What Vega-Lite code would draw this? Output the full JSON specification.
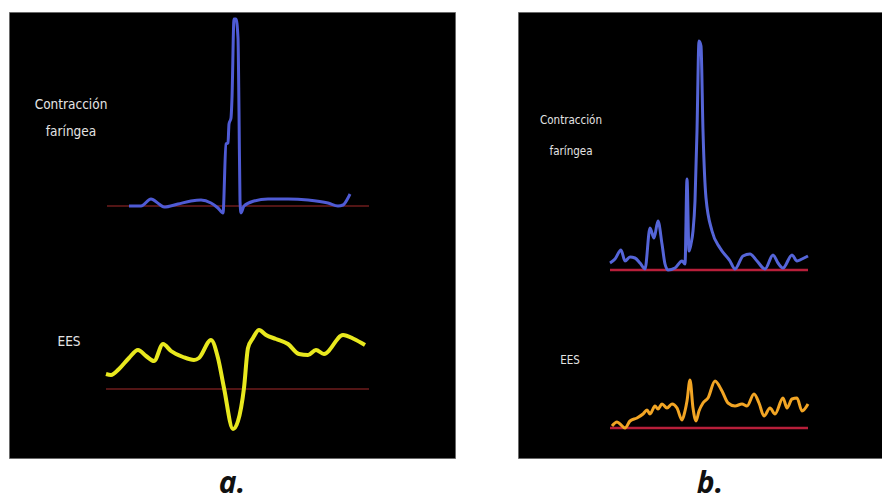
{
  "$schema": "https://vega.github.io/schema/vega-lite/v6.json",
  "background": "white",
  "padding": {"left": 8, "top": 11, "right": 0, "bottom": 3},
  "config": {
    "view": {"fill": "black", "stroke": "#6a6a6a", "strokeWidth": 1},
    "concat": {"spacing": 61}
  },
  "datasets": {
    "a_faringe": [
      {"t": 120, "amp": 0}, {"t": 132, "amp": 0}, {"t": 142, "amp": 7}, {"t": 150, "amp": 2},
      {"t": 155, "amp": -1}, {"t": 169, "amp": 2}, {"t": 182, "amp": 5}, {"t": 192, "amp": 6},
      {"t": 202, "amp": 3}, {"t": 209, "amp": -2}, {"t": 214, "amp": -7}, {"t": 217, "amp": 62},
      {"t": 219, "amp": 63}, {"t": 220, "amp": 82}, {"t": 222, "amp": 88}, {"t": 223, "amp": 108},
      {"t": 225, "amp": 187}, {"t": 227, "amp": 187}, {"t": 229, "amp": 168}, {"t": 230, "amp": 95},
      {"t": 231, "amp": 5}, {"t": 232, "amp": -7}, {"t": 235, "amp": 0}, {"t": 245, "amp": 5},
      {"t": 259, "amp": 7}, {"t": 279, "amp": 7}, {"t": 299, "amp": 6}, {"t": 319, "amp": 3},
      {"t": 329, "amp": 0}, {"t": 334, "amp": 1}, {"t": 339, "amp": 8}, {"t": 341, "amp": 12}
    ],
    "a_ees": [
      {"t": 97, "amp": 15}, {"t": 102, "amp": 14}, {"t": 110, "amp": 20}, {"t": 120, "amp": 31},
      {"t": 129, "amp": 39}, {"t": 137, "amp": 33}, {"t": 145, "amp": 28}, {"t": 154, "amp": 45},
      {"t": 162, "amp": 38}, {"t": 174, "amp": 32}, {"t": 185, "amp": 29}, {"t": 190, "amp": 31},
      {"t": 202, "amp": 49}, {"t": 209, "amp": 31}, {"t": 215, "amp": 1}, {"t": 224, "amp": -40},
      {"t": 229, "amp": -32}, {"t": 235, "amp": 1}, {"t": 239, "amp": 41}, {"t": 244, "amp": 51},
      {"t": 250, "amp": 59}, {"t": 257, "amp": 54}, {"t": 267, "amp": 50}, {"t": 279, "amp": 45},
      {"t": 290, "amp": 35}, {"t": 299, "amp": 34}, {"t": 307, "amp": 39}, {"t": 315, "amp": 35},
      {"t": 334, "amp": 54}, {"t": 345, "amp": 50}, {"t": 356, "amp": 44}
    ],
    "b_faringe": [
      {"t": 92, "amp": 7}, {"t": 97, "amp": 11}, {"t": 103, "amp": 20}, {"t": 107, "amp": 9},
      {"t": 112, "amp": 13}, {"t": 117, "amp": 12}, {"t": 122, "amp": 7}, {"t": 127, "amp": 1},
      {"t": 132, "amp": 42}, {"t": 136, "amp": 32}, {"t": 140, "amp": 49}, {"t": 144, "amp": 26},
      {"t": 147, "amp": 6}, {"t": 150, "amp": 0}, {"t": 157, "amp": 2}, {"t": 164, "amp": 9},
      {"t": 167, "amp": 6}, {"t": 169, "amp": 91}, {"t": 171, "amp": 19}, {"t": 173, "amp": 26},
      {"t": 175, "amp": 39}, {"t": 177, "amp": 69}, {"t": 179, "amp": 139}, {"t": 181, "amp": 229},
      {"t": 183, "amp": 224}, {"t": 185, "amp": 139}, {"t": 188, "amp": 72}, {"t": 194, "amp": 39},
      {"t": 202, "amp": 22}, {"t": 212, "amp": 9}, {"t": 217, "amp": 1}, {"t": 225, "amp": 14},
      {"t": 232, "amp": 16}, {"t": 239, "amp": 9}, {"t": 247, "amp": 1}, {"t": 255, "amp": 15},
      {"t": 260, "amp": 7}, {"t": 265, "amp": 2}, {"t": 274, "amp": 15}, {"t": 279, "amp": 9},
      {"t": 284, "amp": 11}, {"t": 290, "amp": 14}
    ],
    "b_ees": [
      {"t": 94, "amp": 2}, {"t": 99, "amp": 6}, {"t": 102, "amp": 4}, {"t": 107, "amp": 0},
      {"t": 112, "amp": 7}, {"t": 119, "amp": 10}, {"t": 125, "amp": 14}, {"t": 129, "amp": 18},
      {"t": 132, "amp": 14}, {"t": 137, "amp": 22}, {"t": 140, "amp": 19}, {"t": 144, "amp": 24},
      {"t": 149, "amp": 20}, {"t": 154, "amp": 24}, {"t": 159, "amp": 20}, {"t": 164, "amp": 8},
      {"t": 167, "amp": 17}, {"t": 169, "amp": 27}, {"t": 172, "amp": 48}, {"t": 175, "amp": 20},
      {"t": 178, "amp": 7}, {"t": 181, "amp": 17}, {"t": 185, "amp": 25}, {"t": 190, "amp": 30},
      {"t": 197, "amp": 47}, {"t": 204, "amp": 37}, {"t": 210, "amp": 25}, {"t": 217, "amp": 22},
      {"t": 224, "amp": 24}, {"t": 229, "amp": 22}, {"t": 236, "amp": 34}, {"t": 241, "amp": 25},
      {"t": 246, "amp": 12}, {"t": 252, "amp": 20}, {"t": 257, "amp": 14}, {"t": 265, "amp": 30},
      {"t": 269, "amp": 20}, {"t": 274, "amp": 29}, {"t": 279, "amp": 30}, {"t": 284, "amp": 17},
      {"t": 290, "amp": 24}
    ],
    "baselines": [
      {"panel": "a", "canal": "faringe", "t0": 98, "t1": 360, "amp": 0},
      {"panel": "a", "canal": "ees", "t0": 97, "t1": 360, "amp": 0},
      {"panel": "b", "canal": "faringe", "t0": 92, "t1": 290, "amp": 0},
      {"panel": "b", "canal": "ees", "t0": 92, "t1": 290, "amp": 0}
    ],
    "labels": [
      {"panel": "a", "canal": "faringe", "label": "Contracción", "t": 62, "amp": 101},
      {"panel": "a", "canal": "faringe", "label": "faríngea", "t": 62, "amp": 74},
      {"panel": "a", "canal": "ees", "label": "EES", "t": 60, "amp": 47},
      {"panel": "b", "canal": "faringe", "label": "Contracción", "t": 53, "amp": 149},
      {"panel": "b", "canal": "faringe", "label": "faríngea", "t": 53, "amp": 118},
      {"panel": "b", "canal": "ees", "label": "EES", "t": 52, "amp": 67}
    ]
  },
  "hconcat": [
    {
      "width": 446,
      "height": 446,
      "title": {"text": "a.", "orient": "bottom", "anchor": "middle", "baseline": "alphabetic", "offset": 35, "font": "Open Sans", "fontSize": 30, "fontStyle": "italic", "fontWeight": "bold", "color": "#111111"},
      "resolve": {"scale": {"y": "independent"}},
      "layer": [
        {
          "layer": [
            {
              "data": {"name": "baselines"},
              "transform": [{"filter": "datum.panel == 'a' && datum.canal == 'faringe'"}],
              "mark": {"type": "rule", "color": "#6e1c1c", "strokeWidth": 1.5},
              "encoding": {
                "x": {"field": "t0", "type": "quantitative", "scale": {"domain": [0, 446], "nice": false, "zero": false}, "axis": null},
                "x2": {"field": "t1"},
                "y": {"field": "amp", "type": "quantitative", "scale": {"domain": [-252, 194], "nice": false, "zero": false}, "axis": null}
              }
            },
            {
              "data": {"name": "a_faringe"},
              "mark": {"type": "line", "color": "#4f5bd5", "strokeWidth": 3, "interpolate": "monotone"},
              "encoding": {
                "x": {"field": "t", "type": "quantitative", "axis": null},
                "y": {"field": "amp", "type": "quantitative", "axis": null}
              }
            },
            {
              "data": {"name": "labels"},
              "transform": [{"filter": "datum.panel == 'a' && datum.canal == 'faringe'"}],
              "mark": {"type": "text", "font": "Liberation Sans Narrow, DejaVu Sans Condensed, Roboto", "fontSize": 13.5, "color": "#e4e4e4", "align": "center", "baseline": "middle"},
              "encoding": {
                "x": {"field": "t", "type": "quantitative", "axis": null},
                "y": {"field": "amp", "type": "quantitative", "axis": null},
                "text": {"field": "label"}
              }
            }
          ]
        },
        {
          "layer": [
            {
              "data": {"name": "baselines"},
              "transform": [{"filter": "datum.panel == 'a' && datum.canal == 'ees'"}],
              "mark": {"type": "rule", "color": "#6e1c1c", "strokeWidth": 1.5},
              "encoding": {
                "x": {"field": "t0", "type": "quantitative", "axis": null},
                "x2": {"field": "t1"},
                "y": {"field": "amp", "type": "quantitative", "scale": {"domain": [-69, 377], "nice": false, "zero": false}, "axis": null}
              }
            },
            {
              "data": {"name": "a_ees"},
              "mark": {"type": "line", "color": "#e8e81e", "strokeWidth": 4, "interpolate": "monotone"},
              "encoding": {
                "x": {"field": "t", "type": "quantitative", "axis": null},
                "y": {"field": "amp", "type": "quantitative", "axis": null}
              }
            },
            {
              "data": {"name": "labels"},
              "transform": [{"filter": "datum.panel == 'a' && datum.canal == 'ees'"}],
              "mark": {"type": "text", "font": "Liberation Sans Narrow, DejaVu Sans Condensed, Roboto", "fontSize": 13.5, "color": "#e4e4e4", "align": "center", "baseline": "middle"},
              "encoding": {
                "x": {"field": "t", "type": "quantitative", "axis": null},
                "y": {"field": "amp", "type": "quantitative", "axis": null},
                "text": {"field": "label"}
              }
            }
          ]
        }
      ]
    },
    {
      "width": 384,
      "height": 446,
      "title": {"text": "b.", "orient": "bottom", "anchor": "middle", "baseline": "alphabetic", "offset": 35, "font": "Open Sans", "fontSize": 30, "fontStyle": "italic", "fontWeight": "bold", "color": "#111111"},
      "resolve": {"scale": {"y": "independent"}},
      "layer": [
        {
          "layer": [
            {
              "data": {"name": "baselines"},
              "transform": [{"filter": "datum.panel == 'b' && datum.canal == 'faringe'"}],
              "mark": {"type": "rule", "color": "#b81f3a", "strokeWidth": 2.5},
              "encoding": {
                "x": {"field": "t0", "type": "quantitative", "scale": {"domain": [0, 384], "nice": false, "zero": false}, "axis": null},
                "x2": {"field": "t1"},
                "y": {"field": "amp", "type": "quantitative", "scale": {"domain": [-188, 258], "nice": false, "zero": false}, "axis": null}
              }
            },
            {
              "data": {"name": "b_faringe"},
              "mark": {"type": "line", "color": "#5565d8", "strokeWidth": 3, "interpolate": "monotone"},
              "encoding": {
                "x": {"field": "t", "type": "quantitative", "axis": null},
                "y": {"field": "amp", "type": "quantitative", "axis": null}
              }
            },
            {
              "data": {"name": "labels"},
              "transform": [{"filter": "datum.panel == 'b' && datum.canal == 'faringe'"}],
              "mark": {"type": "text", "font": "Liberation Sans Narrow, DejaVu Sans Condensed, Roboto", "fontSize": 11.5, "color": "#e4e4e4", "align": "center", "baseline": "middle"},
              "encoding": {
                "x": {"field": "t", "type": "quantitative", "axis": null},
                "y": {"field": "amp", "type": "quantitative", "axis": null},
                "text": {"field": "label"}
              }
            }
          ]
        },
        {
          "layer": [
            {
              "data": {"name": "baselines"},
              "transform": [{"filter": "datum.panel == 'b' && datum.canal == 'ees'"}],
              "mark": {"type": "rule", "color": "#b81f3a", "strokeWidth": 2.5},
              "encoding": {
                "x": {"field": "t0", "type": "quantitative", "axis": null},
                "x2": {"field": "t1"},
                "y": {"field": "amp", "type": "quantitative", "scale": {"domain": [-30, 416], "nice": false, "zero": false}, "axis": null}
              }
            },
            {
              "data": {"name": "b_ees"},
              "mark": {"type": "line", "color": "#f2a524", "strokeWidth": 3, "interpolate": "monotone"},
              "encoding": {
                "x": {"field": "t", "type": "quantitative", "axis": null},
                "y": {"field": "amp", "type": "quantitative", "axis": null}
              }
            },
            {
              "data": {"name": "labels"},
              "transform": [{"filter": "datum.panel == 'b' && datum.canal == 'ees'"}],
              "mark": {"type": "text", "font": "Liberation Sans Narrow, DejaVu Sans Condensed, Roboto", "fontSize": 11.5, "color": "#e4e4e4", "align": "center", "baseline": "middle"},
              "encoding": {
                "x": {"field": "t", "type": "quantitative", "axis": null},
                "y": {"field": "amp", "type": "quantitative", "axis": null},
                "text": {"field": "label"}
              }
            }
          ]
        }
      ]
    }
  ]
}
